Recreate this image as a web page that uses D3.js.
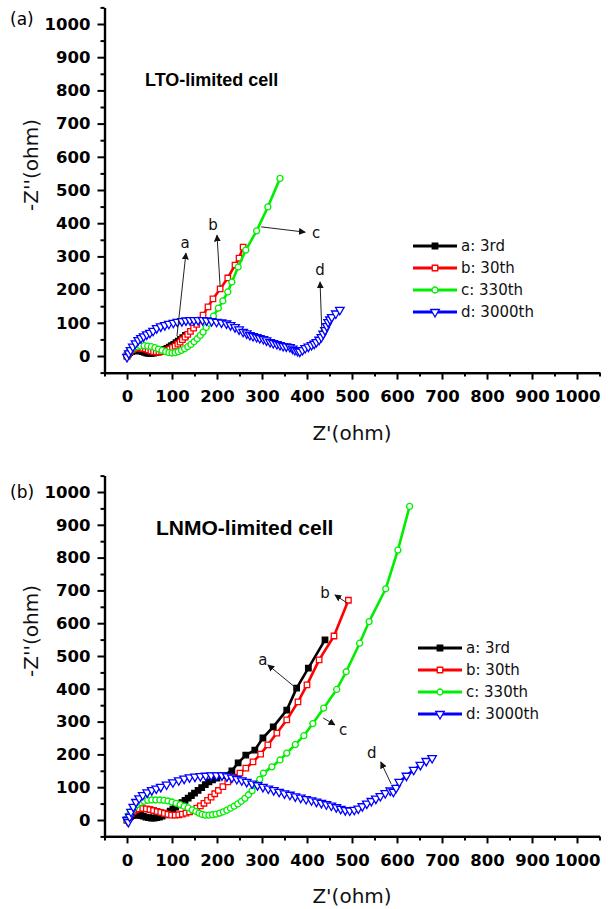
<!DOCTYPE html>
<html>
<head>
<meta charset="utf-8">
<script src="https://cdn.jsdelivr.net/npm/d3@7"></script>
<style>
body { margin: 0; background: #fff; }
</style>
</head>
<body>
<div class="chart"></div>
<script>

// (a) LTO-limited cell, [Z', -Z''] in ohm
var ltoA = [[0,0],[3,6],[6,10],[10,13],[14,15],[19,16],[24,16],[29,15],[34,13],[39,11],[44,9],[49,8],[54,8],[59,9],[64,10],[69,12],[74,14],[79,17],[84,20],[89,23],[94,27],[99,31],[104,35],[109,40],[114,45],[119,50],[124,55],[130,62]];
var ltoB = [[0,0],[3,8],[7,14],[12,19],[17,22],[23,24],[29,24],[35,23],[41,21],[47,18],[53,15],[59,13],[65,12],[71,12],[77,13],[83,15],[89,18],[95,21],[101,25],[107,30],[113,36],[118,42],[123,49],[129,57],[135,65],[141,74],[148,84],[155,95],[162,108],[169,123],[180,148],[191,172],[207,202],[224,235],[240,274],[249,295],[258,328]];
var ltoC = [[0,0],[4,10],[9,18],[15,24],[22,28],[30,30],[38,31],[46,30],[54,28],[62,25],[70,21],[78,17],[86,13],[93,10],[100,9],[107,10],[114,13],[121,17],[128,22],[135,28],[142,35],[149,43],[156,52],[163,62],[169,72],[176,86],[183,99],[192,120],[203,144],[213,166],[224,193],[233,223],[247,268],[264,319],[288,377],[313,449],[340,535]];
var ltoD = [[0,-3],[4,8],[8,18],[13,28],[19,38],[25,48],[31,54],[37,59],[44,65],[51,70],[58,76],[66,84],[75,89],[84,93],[93,97],[103,100],[112,103],[122,105],[131,107],[140,108],[149,108],[158,108],[168,108],[177,107],[188,105],[199,103],[210,101],[221,98],[230,93],[240,87],[249,80],[258,73],[266,68],[273,63],[280,60],[288,57],[295,54],[303,51],[310,47],[318,42],[325,39],[333,36],[340,33],[347,30],[354,29],[362,27],[368,22],[373,18],[379,15],[384,13],[390,18],[396,24],[403,28],[410,33],[416,37],[421,42],[427,49],[432,57],[436,67],[440,78],[444,90],[447,102],[451,110],[455,117],[464,128],[473,139]];

// (b) LNMO-limited cell
var lnmoA = [[0,0],[4,7],[8,11],[13,14],[18,15],[24,15],[30,14],[36,12],[42,9],[48,7],[54,6],[60,6],[66,7],[72,9],[78,12],[84,16],[90,21],[96,27],[102,33],[108,39],[115,46],[122,53],[129,60],[136,67],[143,74],[150,82],[158,90],[166,99],[174,108],[182,116],[190,122],[200,128],[213,135],[233,150],[247,174],[264,198],[284,213],[302,250],[325,284],[355,335],[377,402],[403,463],[440,549]];
var lnmoB = [[0,0],[4,10],[9,19],[14,26],[20,31],[27,34],[35,35],[43,34],[51,32],[59,29],[67,26],[75,23],[83,20],[91,17],[99,15],[107,15],[115,16],[123,18],[131,21],[139,25],[147,30],[155,36],[163,43],[171,51],[179,60],[187,70],[195,80],[203,90],[213,102],[224,116],[238,131],[251,143],[264,158],[280,177],[297,201],[313,229],[333,265],[355,305],[380,360],[400,412],[427,488],[460,561],[492,670]];
var lnmoC = [[0,0],[3,10],[7,20],[12,30],[17,39],[23,47],[30,53],[38,57],[46,60],[55,61],[64,61],[73,61],[82,60],[91,58],[100,55],[109,51],[118,47],[127,42],[136,37],[145,31],[153,26],[160,21],[167,17],[174,15],[182,15],[190,16],[198,18],[206,21],[214,25],[222,30],[230,36],[238,42],[246,49],[254,57],[262,66],[270,77],[278,89],[288,108],[295,124],[303,143],[322,162],[340,183],[355,204],[374,230],[393,257],[413,294],[437,341],[466,398],[487,452],[517,539],[538,605],[575,705],[602,823],[628,956]];
var lnmoD = [[0,0],[3,-6],[6,10],[9,25],[14,40],[20,55],[27,66],[35,76],[45,84],[55,91],[65,96],[75,101],[88,108],[102,115],[115,121],[127,126],[139,130],[151,132],[163,134],[175,135],[187,136],[199,136],[211,136],[222,133],[233,129],[244,125],[255,121],[266,116],[278,111],[290,106],[302,101],[314,96],[326,91],[338,86],[350,81],[362,77],[374,72],[386,68],[398,64],[410,60],[421,56],[432,52],[443,48],[454,44],[465,39],[475,34],[485,30],[495,29],[505,31],[514,35],[523,42],[533,50],[543,58],[553,65],[563,73],[574,82],[585,90],[592,86],[598,98],[605,116],[621,135],[637,153],[652,168],[665,180],[678,189]];

var seriesNames = ["a: 3rd", "b: 30th", "c: 330th", "d: 3000th"];
var seriesColors = ["#000000", "#ff0000", "#00ee00", "#0000ff"];

var xTickValues = [0, 100, 200, 300, 400, 500, 600, 700, 800, 900, 1000];
var yTickValues = [0, 100, 200, 300, 400, 500, 600, 700, 800, 900, 1000];
var minorTickValues = [-50, 50, 150, 250, 350, 450, 550, 650, 750, 850, 950, 1050];

// arrow notes: label position, arrow start, arrow tip (data units)
var ltoNotes = [
	{label: "a", lx: 129, ly: 342, x1: 111, y1: 60, x2: 131, y2: 310},
	{label: "b", lx: 191, ly: 395, x1: 207, y1: 208, x2: 200, y2: 364},
	{label: "c", lx: 420, ly: 372, x1: 298, y1: 389, x2: 396, y2: 373},
	{label: "d", lx: 429, ly: 261, x1: 433, y1: 72, x2: 429, y2: 223}
];
var lnmoNotes = [
	{label: "a", lx: 302, ly: 488, x1: 376, y1: 402, x2: 313, y2: 473},
	{label: "b", lx: 440, ly: 692, x1: 489, y1: 662, x2: 462, y2: 686},
	{label: "c", lx: 480, ly: 274, x1: 436, y1: 311, x2: 462, y2: 290},
	{label: "d", lx: 544, ly: 204, x1: 587, y1: 110, x2: 564, y2: 177}
];


var width = 614;
var height = 909;

var svg = d3.select(".chart")
			.append("svg")
			.attr("width", width)
			.attr("height", height)

svg.append("defs")
   .append("marker")
   .attr("id", "head")
   .attr("viewBox", "0 0 10 10")
   .attr("refX", 9)
   .attr("refY", 5)
   .attr("markerWidth", 7)
   .attr("markerHeight", 7)
   .attr("markerUnits", "userSpaceOnUse")
   .attr("orient", "auto")
   .append("path")
   .attr("d", "M0,0 L10,5 L0,10 Z")
   .attr("fill", "#111")

var xScale = d3.scaleLinear()
			   .domain([-50, 1050])
			   .range([104.5, 599.5]);

var panels = [
	{tag: "(a)", tagY: 25, title: "LTO-limited cell", titleX: 145, titleY: 86, titleSize: 18,
	 series: [ltoA, ltoB, ltoC, ltoD], notes: ltoNotes, yRange: [372.6, 7.4], legendX: 413, legendY: 246},
	{tag: "(b)", tagY: 498, title: "LNMO-limited cell", titleX: 156, titleY: 535, titleSize: 21,
	 series: [lnmoA, lnmoB, lnmoC, lnmoD], notes: lnmoNotes, yRange: [836.4, 475.6], legendX: 418, legendY: 648}
];

var symbols = [d3.symbolSquare, d3.symbolSquare, d3.symbolCircle, d3.symbolTriangle];
var symbolSizes = [30, 30, 28, 32];

function drawMarker(g, i, px, py) {
	g.append("path")
	 .attr("d", d3.symbol().type(symbols[i]).size(symbolSizes[i])())
	 .attr("transform", "translate(" + px + "," + py + ")" + (i == 3 ? " rotate(180)" : ""))
	 .attr("fill", i == 0 ? seriesColors[0] : "#fff")
	 .attr("stroke", seriesColors[i])
	 .attr("stroke-width", 1.3)
}

panels.forEach(function(p) {

	var yScale = d3.scaleLinear()
				   .domain([-50, 1050])
				   .range(p.yRange);

	var g = svg.append("g");

	// axes
	var yAxis = g.append("g")
				 .attr("transform", "translate(" + xScale(-50) + ",0)")
				 .call(d3.axisLeft(yScale).tickValues(yTickValues).tickFormat(d3.format("d")).tickSize(7).tickSizeOuter(0).tickPadding(7))
	yAxis.append("g")
		 .call(d3.axisLeft(yScale).tickValues(minorTickValues).tickSize(4).tickSizeOuter(0).tickFormat(""))

	var xAxis = g.append("g")
				 .attr("transform", "translate(0," + yScale(-50) + ")")
				 .call(d3.axisBottom(xScale).tickValues(xTickValues).tickFormat(d3.format("d")).tickSize(7).tickSizeOuter(0).tickPadding(11))
	xAxis.append("g")
		 .call(d3.axisBottom(xScale).tickValues(minorTickValues).tickSize(4).tickSizeOuter(0).tickFormat(""))

	g.selectAll(".domain").attr("stroke", "#000").attr("stroke-width", 2.2)
	g.selectAll(".tick line").attr("stroke", "#000").attr("stroke-width", 2)
	g.selectAll(".tick text")
	 .attr("font-family", "DejaVu Sans")
	 .attr("font-weight", "bold")
	 .attr("font-size", "16.5px")
	 .attr("fill", "#000")

	// axis titles
	g.append("text")
	 .text("Z'(ohm)")
	 .attr("x", xScale(500))
	 .attr("y", yScale(-50) + 67)
	 .attr("text-anchor", "middle")
	 .attr("font-family", "DejaVu Sans")
	 .attr("font-size", "20px")
	 .attr("fill", "#111")

	g.append("text")
	 .text("-Z''(ohm)")
	 .attr("transform", "translate(38," + (yScale(500) - 25) + ") rotate(-90)")
	 .attr("text-anchor", "middle")
	 .attr("font-family", "DejaVu Sans")
	 .attr("font-size", "20px")
	 .attr("fill", "#111")

	g.append("text")
	 .text(p.tag)
	 .attr("x", 10)
	 .attr("y", p.tagY)
	 .attr("font-family", "DejaVu Sans")
	 .attr("font-size", "17px")
	 .attr("fill", "#000")

	g.append("text")
	 .text(p.title)
	 .attr("x", p.titleX)
	 .attr("y", p.titleY)
	 .attr("font-family", "Liberation Sans")
	 .attr("font-weight", "bold")
	 .attr("font-size", p.titleSize + "px")
	 .attr("fill", "#000")

	// series
	var line = d3.line()
				 .x(function(d) { return xScale(d[0]); })
				 .y(function(d) { return yScale(d[1]); })

	p.series.forEach(function(data, i) {
		var s = g.append("g");
		s.append("path")
		 .datum(data)
		 .attr("d", line)
		 .attr("fill", "none")
		 .attr("stroke", seriesColors[i])
		 .attr("stroke-width", 2.6)
		 .attr("stroke-linejoin", "round")
		data.forEach(function(d) {
			drawMarker(s, i, xScale(d[0]), yScale(d[1]));
		})
	})

	// notes
	p.notes.forEach(function(n) {
		g.append("line")
		 .attr("x1", xScale(n.x1))
		 .attr("y1", yScale(n.y1))
		 .attr("x2", xScale(n.x2))
		 .attr("y2", yScale(n.y2))
		 .attr("stroke", "#222")
		 .attr("stroke-width", 1)
		 .attr("marker-end", "url(#head)")
		g.append("text")
		 .text(n.label)
		 .attr("x", xScale(n.lx))
		 .attr("y", yScale(n.ly))
		 .attr("dy", "0.35em")
		 .attr("text-anchor", "middle")
		 .attr("font-family", "DejaVu Sans")
		 .attr("font-size", "15px")
		 .attr("fill", "#111")
	})

	// legend
	var key = g.append("g")
			   .attr("transform", "translate(" + p.legendX + "," + p.legendY + ")")

	seriesNames.forEach(function(name, i) {
		var row = key.append("g").attr("transform", "translate(0," + (i * 22) + ")");
		row.append("line")
		   .attr("x1", 0).attr("x2", 44)
		   .attr("stroke", seriesColors[i])
		   .attr("stroke-width", 3)
		drawMarker(row, i, 22, 0);
		row.append("text")
		   .text(name)
		   .attr("x", 48)
		   .attr("dy", "0.36em")
		   .attr("font-family", "DejaVu Sans")
		   .attr("font-size", "15px")
		   .attr("fill", "#111")
	})
})

</script>
</body>
</html>
